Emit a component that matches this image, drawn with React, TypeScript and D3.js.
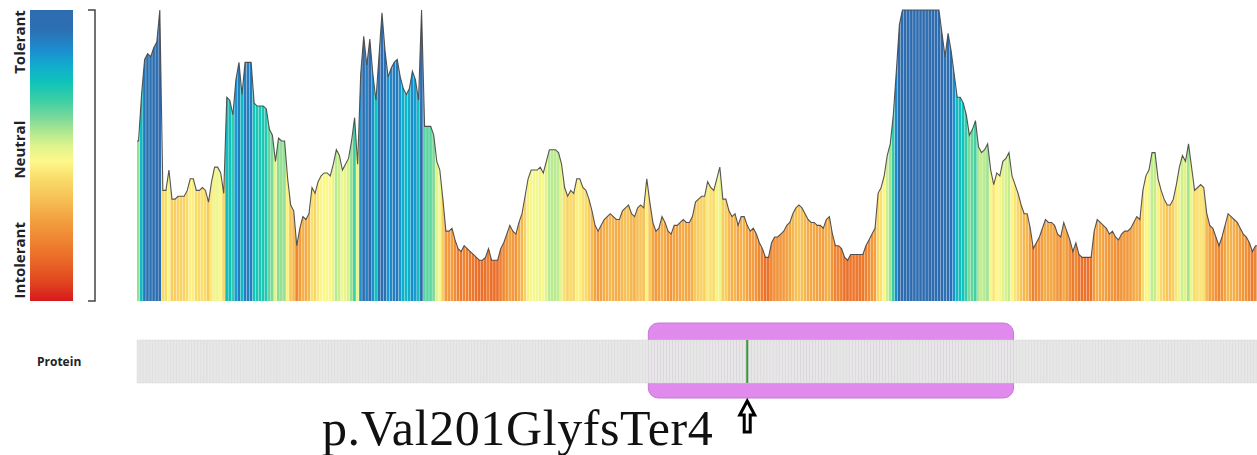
import * as d3 from 'd3'

const width = 1257
const height = 455

// tolerance score per residue (0 = intolerant, 1 = tolerant), residues 1..368
const residueScores = [
  0.55, 0.71, 0.83, 0.85, 0.84, 0.87, 0.89, 1.00, 0.38, 0.38,
  0.45, 0.35, 0.35, 0.36, 0.36, 0.36, 0.38, 0.42, 0.42, 0.38,
  0.38, 0.39, 0.38, 0.34, 0.41, 0.46, 0.46, 0.44, 0.37, 0.70,
  0.69, 0.64, 0.76, 0.82, 0.71, 0.82, 0.82, 0.82, 0.68, 0.67,
  0.67, 0.67, 0.66, 0.59, 0.57, 0.48, 0.56, 0.55, 0.55, 0.42,
  0.33, 0.31, 0.19, 0.25, 0.29, 0.28, 0.30, 0.39, 0.37, 0.41,
  0.43, 0.44, 0.44, 0.43, 0.47, 0.52, 0.50, 0.45, 0.47, 0.49,
  0.55, 0.63, 0.47, 0.78, 0.91, 0.81, 0.90, 0.78, 0.69, 0.84,
  0.99, 0.86, 0.77, 0.80, 0.82, 0.83, 0.77, 0.73, 0.71, 0.73,
  0.79, 0.76, 0.69, 1.00, 0.60, 0.60, 0.60, 0.57, 0.48, 0.45,
  0.35, 0.24, 0.24, 0.25, 0.21, 0.18, 0.17, 0.19, 0.18, 0.17,
  0.16, 0.15, 0.14, 0.14, 0.15, 0.18, 0.14, 0.14, 0.14, 0.18,
  0.20, 0.23, 0.26, 0.24, 0.23, 0.27, 0.30, 0.36, 0.42, 0.45,
  0.45, 0.45, 0.46, 0.44, 0.48, 0.52, 0.52, 0.52, 0.51, 0.47,
  0.39, 0.36, 0.38, 0.37, 0.42, 0.42, 0.39, 0.38, 0.35, 0.31,
  0.26, 0.24, 0.26, 0.28, 0.29, 0.30, 0.29, 0.28, 0.28, 0.31,
  0.32, 0.33, 0.30, 0.29, 0.32, 0.33, 0.32, 0.42, 0.34, 0.27,
  0.24, 0.25, 0.29, 0.27, 0.24, 0.23, 0.26, 0.26, 0.27, 0.28,
  0.27, 0.27, 0.29, 0.34, 0.35, 0.36, 0.36, 0.41, 0.39, 0.38,
  0.42, 0.46, 0.35, 0.35, 0.31, 0.29, 0.30, 0.26, 0.29, 0.29,
  0.26, 0.24, 0.25, 0.23, 0.20, 0.18, 0.15, 0.15, 0.20, 0.22,
  0.22, 0.23, 0.24, 0.26, 0.27, 0.30, 0.32, 0.33, 0.32, 0.30,
  0.28, 0.27, 0.27, 0.26, 0.26, 0.25, 0.28, 0.29, 0.23, 0.19,
  0.19, 0.18, 0.15, 0.14, 0.16, 0.16, 0.16, 0.16, 0.16, 0.19,
  0.21, 0.23, 0.25, 0.37, 0.39, 0.43, 0.50, 0.54, 0.64, 0.79,
  0.95, 1.00, 1.00, 1.00, 1.00, 1.00, 1.00, 1.00, 1.00, 1.00,
  1.00, 1.00, 1.00, 1.00, 0.92, 0.84, 0.92, 0.86, 0.78, 0.70,
  0.70, 0.68, 0.64, 0.57, 0.59, 0.62, 0.53, 0.51, 0.52, 0.54,
  0.45, 0.40, 0.44, 0.43, 0.48, 0.49, 0.51, 0.43, 0.40, 0.37,
  0.33, 0.30, 0.30, 0.25, 0.18, 0.20, 0.22, 0.25, 0.28, 0.27,
  0.27, 0.26, 0.23, 0.22, 0.27, 0.24, 0.21, 0.17, 0.20, 0.16,
  0.15, 0.15, 0.15, 0.15, 0.24, 0.28, 0.27, 0.26, 0.25, 0.23,
  0.24, 0.22, 0.21, 0.23, 0.24, 0.24, 0.25, 0.27, 0.29, 0.28,
  0.38, 0.43, 0.45, 0.51, 0.51, 0.42, 0.38, 0.35, 0.33, 0.33,
  0.35, 0.40, 0.46, 0.50, 0.48, 0.54, 0.46, 0.38, 0.39, 0.40,
  0.39, 0.30, 0.26, 0.25, 0.22, 0.19, 0.22, 0.26, 0.30, 0.29,
  0.28, 0.27, 0.25, 0.23, 0.22, 0.20, 0.17, 0.19
]

const legendLabels = ['Intolerant', 'Neutral', 'Tolerant']
const legendLabelScores = [0.14, 0.52, 0.89]
const legendStops = [0, 0.07, 0.14, 0.21, 0.28, 0.35, 0.42, 0.48, 0.53, 0.58, 0.63, 0.69, 0.75, 0.8, 0.86, 0.93, 1]
const legendColors = [
  '#d7191c', '#e24820', '#ea6828', '#ef8532', '#f3a040', '#f6c055', '#f9dc6a', '#fdf88a',
  '#e0f48c', '#b0e890', '#7ad89a', '#3ccfa5', '#10c4b8', '#10b0cc', '#1a8fd0', '#2c70b2', '#2e6cb0'
]

const trackLabel = 'Protein'
const domainStart = 169
const domainEnd = 288
const variantPos = 201
const variantLabel = 'p.Val201GlyfsTer4'

const chart = { left: 137, right: 1257, top: 10, bottom: 301 }

function App() {
  const n = residueScores.length

  const x = d3.scaleLinear().domain([0.5, n + 0.5]).range([chart.left, chart.right])
  const y = d3.scaleLinear().domain([0, 1]).range([chart.bottom, chart.top]).clamp(true)
  const legendColor = d3.scaleLinear<string>()
    .domain(legendStops)
    .range(legendColors)
    .interpolate(d3.interpolateRgb)
    .clamp(true)
  const barColor = (s: number) => legendColor(Math.min(1, s * 1.1))

  const pts: [number, number][] = [
    [0.5, residueScores[0]],
    ...residueScores.map((s, i) => [i + 1, s] as [number, number]),
    [n + 0.5, residueScores[n - 1]]
  ]
  const area = d3.area<[number, number]>()
    .x(d => x(d[0]))
    .y0(y(0))
    .y1(d => y(d[1]))
  const outline = d3.line<[number, number]>()
    .x(d => x(d[0]))
    .y(d => y(d[1]))

  const step = x(2) - x(1)
  const vx = x(variantPos)

  const trackTop = 340
  const trackBottom = 383

  return (
    <svg width={width} height={height} style={{ position: 'absolute', left: 0, top: 0, display: 'block' }}>
      <defs>
        <linearGradient id="legendGrad" x1="0" y1="1" x2="0" y2="0">
          {legendStops.map((o, i) => (
            <stop key={i} offset={o} stopColor={legendColors[i]} />
          ))}
        </linearGradient>
        <clipPath id="landscapeClip">
          <path d={area(pts) ?? ''} />
        </clipPath>
      </defs>

      {/* legend */}
      <rect x={30} y={y(1)} width={43} height={y(0) - y(1)} fill="url(#legendGrad)" />
      {legendLabels.map((label, i) => (
        <text
          key={label}
          transform={`translate(25,${y(legendLabelScores[i])}) rotate(-90)`}
          textAnchor="middle"
          fontFamily="'Open Sans', sans-serif"
          fontWeight={700}
          fontSize={15}
          fill="#222"
        >{label}</text>
      ))}
      <path
        d={`M88,${y(1)}H95V${y(0)}H88`}
        fill="none"
        stroke="#444"
        strokeWidth={1.5}
      />

      {/* tolerance landscape */}
      <g clipPath="url(#landscapeClip)">
        {residueScores.map((s, i) => (
          <rect
            key={i}
            x={x(i + 0.5)}
            y={chart.top}
            width={step - 0.35}
            height={chart.bottom - chart.top}
            fill={barColor(s)}
          />
        ))}
      </g>
      <path d={outline(pts) ?? ''} fill="none" stroke="#444" strokeWidth={1.1} strokeOpacity={0.9} />

      {/* protein track */}
      <text
        x={37}
        y={366}
        fontFamily="'Open Sans', sans-serif"
        fontWeight={700}
        fontSize={12}
        fill="#222"
      >{trackLabel}</text>
      <rect
        x={x(domainStart - 0.5)}
        y={323}
        width={x(domainEnd + 0.5) - x(domainStart - 0.5)}
        height={75}
        rx={10}
        fill="#df8aec"
        stroke="#c57ad4"
        strokeWidth={1}
      />
      {residueScores.map((_, i) => (
        <rect
          key={i}
          x={x(i + 0.5)}
          y={trackTop}
          width={step}
          height={trackBottom - trackTop}
          fill="#e7e7e7"
          stroke="#d8d8d8"
          strokeWidth={0.4}
        />
      ))}
      <line x1={vx} x2={vx} y1={trackTop} y2={trackBottom} stroke="#3a9a3a" strokeWidth={2} />

      {/* variant annotation */}
      <text
        x={322}
        y={445}
        fontFamily="'Liberation Serif', 'Times New Roman', serif"
        fontSize={50}
        letterSpacing={0.6}
        fill="#111"
      >{variantLabel}</text>
      <path
        d={`M${vx},401 L${vx + 7.5},415 L${vx + 3},415 L${vx + 3},432 L${vx - 3},432 L${vx - 3},415 L${vx - 7.5},415 Z`}
        fill="#fff"
        stroke="#000"
        strokeWidth={3}
        strokeLinejoin="miter"
      />
    </svg>
  )
}

export default App
